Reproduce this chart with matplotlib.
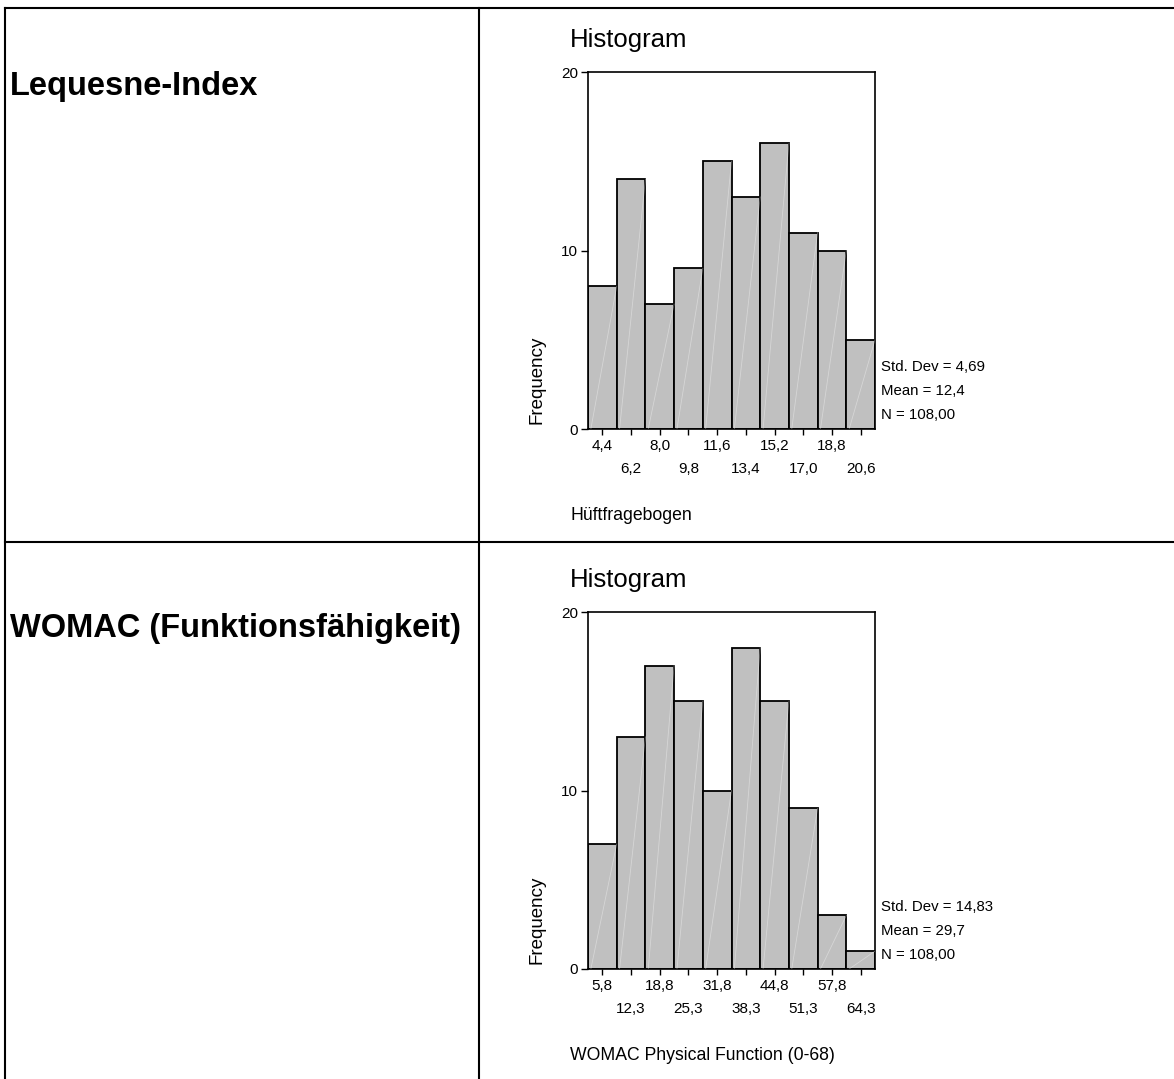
"""
    Zwei SPSS-Histogramme in einer Tabelle (Lequesne-Index, WOMAC)
"""
import matplotlib
matplotlib.use("Agg")
import matplotlib.pyplot as plt
from matplotlib.lines import Line2D

plt.rcParams["font.family"] = ["Liberation Sans", "DejaVu Sans"]

W, H = 1174, 1079

# Daten
row_labels = ["Lequesne-Index", "WOMAC (Funktionsfähigkeit)"]
x_titles = ["Hüftfragebogen", "WOMAC Physical Function (0-68)"]

lequesne_centers = [4.4, 6.2, 8.0, 9.8, 11.6, 13.4, 15.2, 17.0, 18.8, 20.6]
lequesne_counts = [8, 14, 7, 9, 15, 13, 16, 11, 10, 5]
lequesne_stats = ["Std. Dev = 4,69", "Mean = 12,4", "N = 108,00"]

womac_centers = [5.8, 12.3, 18.8, 25.3, 31.8, 38.3, 44.8, 51.3, 57.8, 64.3]
womac_counts = [7, 13, 17, 15, 10, 18, 15, 9, 3, 1]
womac_stats = ["Std. Dev = 14,83", "Mean = 29,7", "N = 108,00"]

y_ticks = [0, 10, 20]


def fx(px):
    return px / W


def fy(py):
    return 1 - py / H


def histogram(fig, top, centers, counts, stats, xtitle):
    """Zeichnet ein Histogramm, top = Pixelzeile der oberen Achsenkante"""
    bottom = top + 357
    ax = fig.add_axes([fx(588), fy(bottom), fx(875) - fx(588), fy(top) - fy(bottom)])
    width = centers[1] - centers[0]
    ax.bar(centers, counts, width=width, color="#c0c0c0", edgecolor="black",
           linewidth=1.3, zorder=2)
    # helle Diagonalen in den Balken (SPSS-Artefakt)
    for c, n in zip(centers, counts):
        ax.plot([c - width / 2 + width * 0.1, c + width / 2], [0, n], color="white",
                lw=0.6, alpha=0.35, zorder=3)

    ax.set_xlim(centers[0] - width / 2, centers[-1] + width / 2)
    ax.set_ylim(0, 20)
    ax.set_yticks(y_ticks)
    ax.set_yticklabels([str(t) for t in y_ticks])

    labels = [f"{c:.1f}".replace(".", ",") for c in centers]
    ax.set_xticks(centers[0::2])
    ax.set_xticklabels(labels[0::2])
    ax.set_xticks(centers[1::2], minor=True)
    ax.set_xticklabels(labels[1::2], minor=True)
    ax.tick_params(axis="x", which="both", direction="out", length=4, width=1,
                   labelsize=11, pad=3)
    ax.tick_params(axis="x", which="minor", pad=20)
    ax.tick_params(axis="y", direction="out", length=5, width=1, labelsize=11, pad=2)
    for s in ax.spines.values():
        s.set_linewidth(1.2)

    for i, t in enumerate(stats):
        ax.text(1.021, (62 - 24 * i) / 357, t, transform=ax.transAxes,
                fontsize=10.8, ha="left", va="center")

    fig.text(fx(570), fy(top - 32), "Histogram", fontsize=18.5, ha="left", va="center")
    fig.text(fx(537), fy(top + 308), "Frequency", fontsize=13.5, rotation=90,
             ha="center", va="center")
    fig.text(fx(570), fy(top + 443), xtitle, fontsize=12.7, ha="left", va="center")


def main():
    fig = plt.figure(figsize=(W / 100, H / 100), dpi=100)

    # Tabellenlinien
    lw = 1.5
    for line in [((5, 5), (8, H)), ((479, 479), (8, H)),
                 ((5, W), (8, 8)), ((5, W), (542, 542))]:
        xs = [fx(v) for v in line[0]]
        ys = [fy(v) for v in line[1]]
        fig.add_artist(Line2D(xs, ys, color="black", lw=lw))

    fig.text(fx(10), fy(87), row_labels[0], fontsize=23.5, fontweight="bold",
             ha="left", va="center")
    fig.text(fx(10), fy(629), row_labels[1], fontsize=23.5, fontweight="bold",
             ha="left", va="center")

    histogram(fig, 72, lequesne_centers, lequesne_counts, lequesne_stats, x_titles[0])
    histogram(fig, 612, womac_centers, womac_counts, womac_stats, x_titles[1])

    fig.savefig("out.png", dpi=100)


if __name__ == "__main__":
    main()
